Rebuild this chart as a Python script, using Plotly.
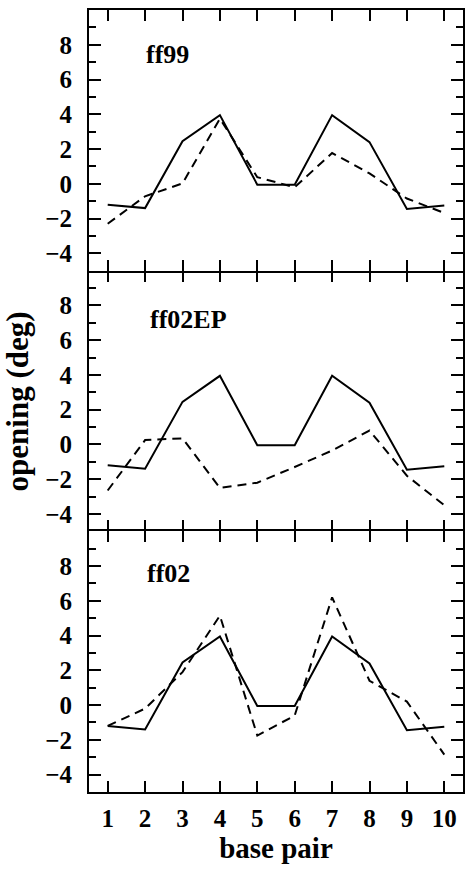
import plotly.graph_objects as go
from plotly.subplots import make_subplots

base_pair = [1, 2, 3, 4, 5, 6, 7, 8, 9, 10]
reference = [-1.2, -1.4, 2.45, 3.95, -0.05, -0.05, 3.95, 2.4, -1.45, -1.25]
ff99 = [-2.3, -0.72, 0.02, 3.75, 0.38, -0.2, 1.77, 0.6, -0.85, -1.68]
ff02EP = [-2.65, 0.25, 0.35, -2.5, -2.2, -1.3, -0.35, 0.8, -1.8, -3.5]
ff02 = [-1.2, -0.2, 1.9, 5.15, -1.75, -0.6, 6.2, 1.4, 0.2, -2.85]

panel_names = ["ff99", "ff02EP", "ff02"]
panel_series = [ff99, ff02EP, ff02]
label_pos = [(1.96, 7.45), (2.07, 7.2), (2.01, 7.6)]

y_major = [-4, -2, 0, 2, 4, 6, 8]
y_major_text = ["\u22124", "\u22122", "0", "2", "4", "6", "8"]
y_minor = [-5, -3, -1, 1, 3, 5, 7, 9]

FONT = "Liberation Serif"

fig = make_subplots(rows=3, cols=1, shared_xaxes=True, vertical_spacing=0)

for i, (name, series) in enumerate(zip(panel_names, panel_series), start=1):
    fig.add_trace(go.Scatter(x=base_pair, y=reference, mode="lines",
                             line=dict(color="black", width=2),
                             showlegend=False), row=i, col=1)
    fig.add_trace(go.Scatter(x=base_pair, y=series, mode="lines",
                             line=dict(color="black", width=2, dash="9px,6px"),
                             showlegend=False), row=i, col=1)
    fig.add_annotation(x=label_pos[i - 1][0], y=label_pos[i - 1][1],
                       xref=f"x{'' if i == 1 else i}", yref=f"y{'' if i == 1 else i}",
                       text=name, showarrow=False, xanchor="left", yanchor="middle",
                       font=dict(family=FONT, size=26, color="black", weight="bold"))
    fig.update_yaxes(row=i, col=1, range=[-5, 10],
                     tickmode="array", tickvals=y_major, ticktext=y_major_text,
                     ticks="inside", ticklen=12, tickwidth=1.5, tickcolor="black",
                     minor=dict(tickmode="array", tickvals=y_minor, ticks="inside",
                                ticklen=7, tickwidth=1.5, tickcolor="black", showgrid=False),
                     showline=True, linewidth=2, linecolor="black", mirror="ticks",
                     showgrid=False, zeroline=False,
                     tickfont=dict(family=FONT, size=25, color="black", weight="bold"),
                     ticklabelstandoff=10)
    fig.update_xaxes(row=i, col=1, range=[0.5, 10.5],
                     tickmode="array", tickvals=base_pair,
                     ticks="inside", ticklen=11, tickwidth=1.5, tickcolor="black",
                     showline=(i != 2), linewidth=2, linecolor="black", mirror="ticks",
                     showgrid=False, zeroline=False,
                     showticklabels=(i == 3),
                     tickfont=dict(family=FONT, size=25, color="black", weight="bold"),
                     ticklabelstandoff=3)

fig.update_xaxes(row=3, col=1, title=dict(text="base pair", standoff=6,
                 font=dict(family=FONT, size=29, color="black", weight="bold")))

fig.add_annotation(x=(17 - 89) / 376, y=0.5, xref="paper", yref="paper", text="opening (deg)",
                   showarrow=False, textangle=-90, xanchor="center", yanchor="middle",
                   font=dict(family=FONT, size=31, color="black", weight="bold"))

fig.update_layout(width=472, height=880, margin=dict(l=89, r=7, t=10, b=88),
                  plot_bgcolor="white", paper_bgcolor="white", showlegend=False)

fig.write_html("out.html")
